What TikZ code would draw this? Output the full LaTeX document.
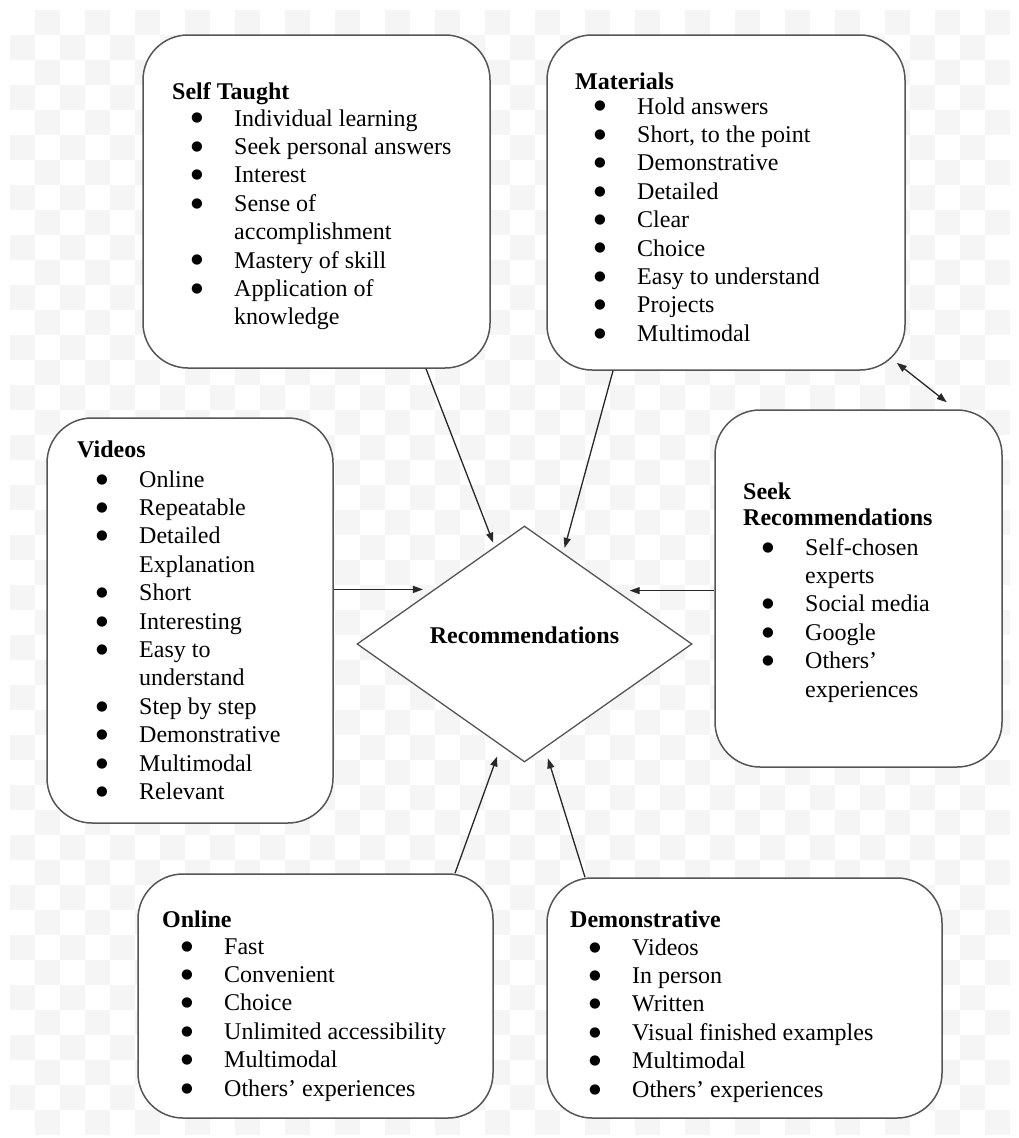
\documentclass[tikz,border=0pt]{standalone}
\usepackage{fontspec}
\setmainfont{Liberation Serif}
\newfontfamily\bulletfont{DejaVu Sans}
\usetikzlibrary{shapes.geometric,arrows.meta}

\definecolor{boxline}{RGB}{85,85,85}
\definecolor{arrowline}{RGB}{40,40,40}
\definecolor{checker}{RGB}{245,245,245}

\tikzset{
  card/.style={draw=boxline, line width=1.5pt, fill=white, rounded corners=45pt, inner sep=0pt},
  hub/.style={shape=diamond, draw=boxline, line width=1.3pt, fill=white, inner sep=0pt,
              minimum width=335pt, minimum height=236pt},
  linetext/.style={anchor=base west, inner sep=0pt, font=\fontsize{24}{28}\selectfont},
  bullettext/.style={anchor=center, inner sep=0pt, font=\bulletfont\fontsize{13.5}{15}\selectfont},
  hubtext/.style={inner sep=0pt, font=\bfseries\fontsize{24}{28}\selectfont},
  tip/.tip={Triangle[length=10pt,width=7pt]},
  flow/.style={draw=arrowline, line width=1.3pt, -tip},
  twoway/.style={draw=arrowline, line width=1.3pt, tip-tip},
}

\def\kindb{b}
% #1 name prefix, #2 left x, #3 first heading baseline, #4 heading lines,
% #5 first item baseline, #6 items as kind/text (b = bulleted, c = continued line)
\newcommand\boxtext[6]{%
  \foreach [count=\k from 0] \htxt in {#4}
    \node[linetext] (#1-h\k) at (#2, #3 + \k*26) {\textbf{\htxt}};
  \foreach [count=\k from 0] \kind/\ltxt in {#6} {
    \node[linetext] (#1-\k) at (#2+62, #5 + \k*28.4) {\ltxt};
    \ifx\kind\kindb
      \node[bullettext] (#1-b\k) at (#2+25, #5 + \k*28.4 - 7.5) {●};
    \fi
  }
}

\begin{document}
\begin{tikzpicture}[x=1pt, y=-1pt]
\useasboundingbox (0,0) rectangle (1019,1138);

% checkered backdrop
\fill[white] (0,0) rectangle (1019,1138);
\foreach \i in {0,...,39} {
  \foreach \j in {0,...,44} {
    \ifodd\numexpr\i+\j\relax
      \fill[checker] ({10+25*\i},{10+25*\j}) rectangle +(25,25);
    \fi
  }
}

% boxes
\node[card, minimum width=347pt, minimum height=333pt] (st)  at (316.5,201.5) {};
\node[card, minimum width=358pt, minimum height=335pt] (mat) at (726,202.5) {};
\node[card, minimum width=286pt, minimum height=405pt] (vid) at (190,620.5) {};
\node[card, minimum width=287pt, minimum height=357pt] (sr)  at (858.5,588.5) {};
\node[card, minimum width=355pt, minimum height=244pt] (onl) at (315.5,996) {};
\node[card, minimum width=395pt, minimum height=240pt] (dem) at (744.5,998) {};

% central diamond
\node[hub] (rec) at (524.5,644) {};
\node[hubtext] (rec-label) at ([yshift=9pt]rec.center) {Recommendations};

% box contents
\boxtext{st}{172}{99}{Self Taught}{126}{%
  b/Individual learning, b/Seek personal answers, b/Interest, b/Sense of,
  c/accomplishment, b/Mastery of skill, b/Application of, c/knowledge}
\boxtext{mat}{575}{89}{Materials}{114}{%
  b/Hold answers, b/{Short, to the point}, b/Demonstrative, b/Detailed, b/Clear,
  b/Choice, b/Easy to understand, b/Projects, b/Multimodal}
\boxtext{vid}{77}{457}{Videos}{487}{%
  b/Online, b/Repeatable, b/Detailed, c/Explanation, b/Short, b/Interesting,
  b/Easy to, c/understand, b/Step by step, b/Demonstrative, b/Multimodal, b/Relevant}
\boxtext{sr}{743}{499}{Seek, Recommendations}{555}{%
  b/Self-chosen, c/experts, b/Social media, b/Google, b/Others’, c/experiences}
\boxtext{onl}{162}{927}{Online}{954}{%
  b/Fast, b/Convenient, b/Choice, b/Unlimited accessibility, b/Multimodal,
  b/Others’ experiences}
\boxtext{dem}{570}{927}{Demonstrative}{955}{%
  b/Videos, b/In person, b/Written, b/Visual finished examples, b/Multimodal,
  b/Others’ experiences}

% connectors into the diamond
\draw[flow, shorten >=4pt]    ([xshift=109.5pt]st.south) -- (rec.107.3);
\draw[flow, shorten >=5pt]    ([xshift=-113pt]mat.south) -- (rec.67.8);
\draw[flow, shorten >=10.7pt] (rec.149.3 -| vid.east) -- (rec.149.3);
\draw[flow, shorten >=12.7pt] (rec.30.7 -| sr.west) -- (rec.30.7);
\draw[flow, shorten >=11pt]   ([xshift=139.5pt]onl.north) -- (rec.257.3);
\draw[flow, shorten >=10.5pt] ([xshift=-159.5pt]dem.north) -- (rec.281.3);
\draw[twoway] ([shift={(-9,-8)}]mat.south east) -- ([shift={(-56,-7)}]sr.north east);
\end{tikzpicture}
\end{document}
